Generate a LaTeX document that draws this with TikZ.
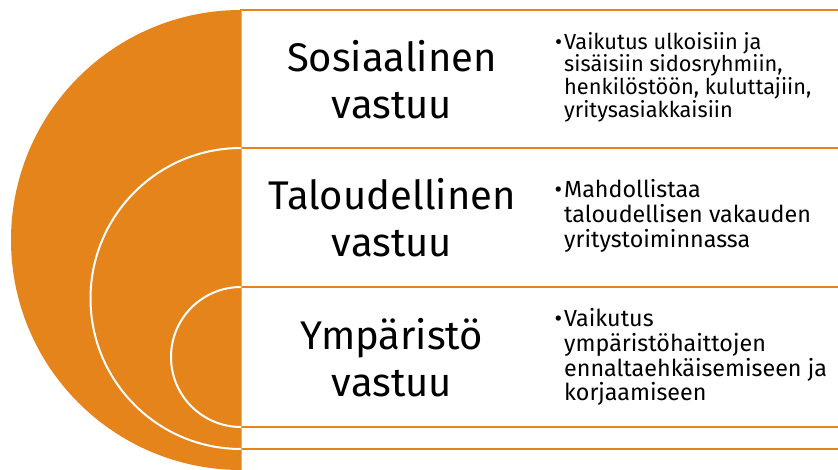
\documentclass[tikz,border=0pt]{standalone}
\usepackage{fontspec}
\setmainfont{Fira Sans}
\usetikzlibrary{positioning}
\definecolor{orng}{HTML}{E4841A}
\definecolor{lorng}{HTML}{EFAE68}
\tikzset{
  box/.style={draw=orng, fill=white, line width=2.4pt, minimum width=609pt, inner sep=0pt, outer sep=0pt},
  ttl/.style={align=center, font=\fontsize{40}{47}\selectfont},
  txt/.style={align=left, anchor=west, inner sep=0pt, font=\fontsize{23.3}{24.8}\selectfont},
  txts/.style={txt, font=\fontsize{21.8}{22.7}\selectfont},
  ring/.style={draw=white, line width=2pt},
}
\newcommand{\blt}{\llap{\textbullet\hspace{2pt}}}

\begin{document}
\begin{tikzpicture}[x=1pt,y=-1pt]
  \clip (0,0) rectangle (838,470);
  \fill[white] (0,0) rectangle (838,470);
  \fill[orng] (241,10) arc[start angle=270,end angle=90,radius=230] -- cycle;
  \node[box, minimum height=138pt] (bS) at (545.5,79) {};
  \node[box, minimum height=139pt] (bT) at (545.5,217.5) {};
  \node[box, minimum height=140pt] (bY) at (545.5,357) {};
  \node[box, minimum height=22pt] (bE) at (545.5,438) {};
  \node[box, minimum height=131pt] (bF) at (545.5,514.5) {};
  \coordinate (foot) at (241,470);
  \draw[lorng, line width=0.8pt] (bS.north west) -- (foot);
  \draw[ring] (bT.north west) arc[start angle=270,end angle=90,radius=150.5];
  \draw[ring] (bY.north west) arc[start angle=270,end angle=90,radius=70];
  \node[ttl] (tS) at (392,80) {Sosiaalinen\\vastuu};
  \node[ttl] (tT) at (392,218) {Taloudellinen\\vastuu};
  \node[ttl] (tY) at (392,358) {Ympäristö\\vastuu};
  \node[txts] (dS) at (564,77) {\blt Vaikutus ulkoisiin ja\\sisäisiin sidosryhmiin,\\henkilöstöön, kuluttajiin,\\yritysasiakkaisiin};
  \node[txt] (dT) at (564,216) {\blt Mahdollistaa\\taloudellisen vakauden\\yritystoiminnassa};
  \node[txt] (dY) at (564,357) {\blt Vaikutus\\ympäristöhaittojen\\ennaltaehkäisemiseen ja\\korjaamiseen};
\end{tikzpicture}
\end{document}
